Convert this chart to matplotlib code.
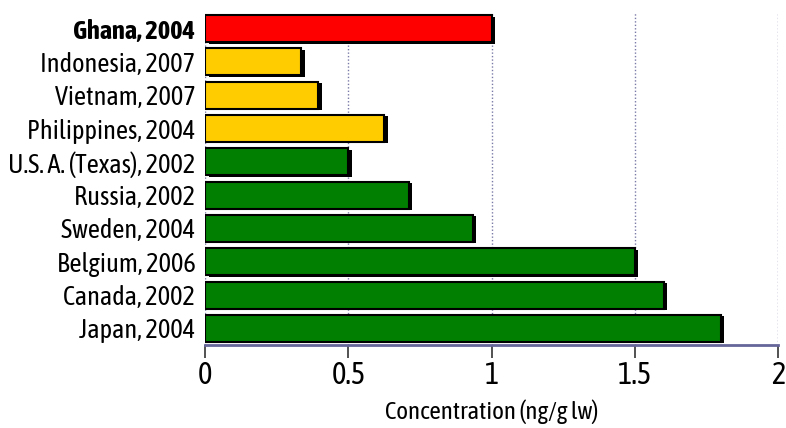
import matplotlib
matplotlib.use("Agg")
import matplotlib.pyplot as plt
import matplotlib.patheffects as pe

# ============================================
# DATOS
# ============================================

paises = [
    "Ghana, 2004",
    "Indonesia, 2007",
    "Vietnam, 2007",
    "Philippines, 2004",
    "U.S. A. (Texas), 2002",
    "Russia, 2002",
    "Sweden, 2004",
    "Belgium, 2006",
    "Canada, 2002",
    "Japan, 2004",
]

valores = [1.0, 0.335, 0.395, 0.625, 0.5, 0.71, 0.935, 1.5, 1.6, 1.8]

colores = ["#ff0000"] + ["#ffcc00"] * 3 + ["#007f00"] * 6

ticks_x = [0, 0.5, 1, 1.5, 2]
etiquetas_x = ["0", "0.5", "1", "1.5", "2"]

# ============================================
# FUENTE
# ============================================

plt.rcParams["font.family"] = ["Asap Condensed", "DejaVu Sans"]

# ============================================
# FIGURA
# ============================================

fig = plt.figure(figsize=(7.86, 4.28), dpi=100)
ax = fig.add_axes([0.261, 0.194, 0.729, 0.778])

y = list(range(len(paises)))

barras = ax.barh(
    y,
    valores,
    height=0.81,
    color=colores,
    edgecolor="black",
    linewidth=1.5,
    zorder=3,
)

for b in barras:
    b.set_path_effects([
        pe.SimplePatchShadow(offset=(2.5, -1), shadow_rgbFace="black", alpha=1.0),
        pe.Normal(),
    ])

ax.set_ylim(len(paises) - 0.5, -0.5)
ax.set_xlim(0, 2)

ax.set_yticks(y)
ax.set_yticklabels(paises, fontsize=19)
ax.get_yticklabels()[0].set_fontweight("bold")
ax.tick_params(axis="y", length=0, pad=7)

ax.set_xticks(ticks_x)
ax.set_xticklabels(etiquetas_x, fontsize=22)
ax.tick_params(axis="x", direction="out", length=9, width=1.2,
               color="#333333", pad=2)

ax.grid(axis="x", linestyle=(0, (1, 1.5)), color="#7a7aa8",
        linewidth=1, zorder=0)

for lado in ["top", "right", "left"]:
    ax.spines[lado].set_visible(False)
ax.spines["bottom"].set_color("#66669a")
ax.spines["bottom"].set_linewidth(2)

ax.set_xlabel("Concentration (ng/g lw)", fontsize=18, labelpad=6)

fig.savefig("out.png", dpi=100)
